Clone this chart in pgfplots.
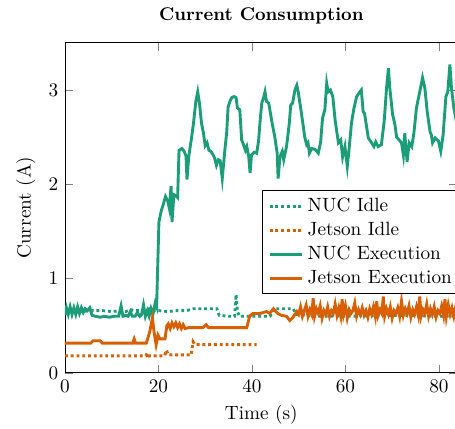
\documentclass[border=0pt]{standalone}
\usepackage{pgfplots}
\pgfplotsset{compat=1.18}
\definecolor{nuc}{HTML}{1B9E77}
\definecolor{jetson}{HTML}{D95F02}

\begin{document}
\begin{tikzpicture}
\begin{axis}[
    name=ax,
    scale only axis,
    width=204.5pt,
    height=171.9pt,
    xmin=0, xmax=84,
    ymin=0, ymax=3.5,
    xtick={0,20,40,60,80},
    ytick={0,1,2,3},
    xlabel={Time (s)},
    ylabel={Current (A)},
    title={Current Consumption},
    title style={font=\fontsize{9.6}{11}\selectfont\bfseries},
    legend cell align=left,
    legend style={at={(0.502,0.554)}, anchor=north west},
    every axis plot/.append style={line width=1.5pt},
]
% NUC idle
\addplot[nuc, dash pattern=on 1.5pt off 1.5pt] coordinates {
(0,0.62)(1,0.66)(2,0.63)(3,0.66)(4,0.65)(5,0.66)(6,0.66)(8,0.66)(10,0.65)
(12,0.66)(13,0.65)(14,0.67)(15,0.66)(17,0.66)(18,0.68)(19,0.66)(20,0.66)
(22,0.65)(24,0.66)(26,0.66)(27.5,0.68)(30,0.68)(32.5,0.68)(33,0.61)(35,0.6)
(36.3,0.6)(36.6,0.83)(36.9,0.65)(37.3,0.6)(39,0.6)(40,0.6)(43.9,0.6)(44.6,0.68)
(48.8,0.68)(49.5,0.62)(53,0.6)(60,0.6)(70,0.61)(80,0.6)(84,0.6)
};
\addlegendentry{NUC Idle}
% Jetson idle
\addplot[jetson, dash pattern=on 1.5pt off 1.5pt] coordinates {
(0,0.18)(5,0.18)(10,0.18)(15,0.18)(17.3,0.18)(17.6,0.21)(17.9,0.18)(21.3,0.18)
(21.7,0.24)(22.1,0.19)(27,0.19)(27.4,0.33)(27.8,0.3)(30,0.3)(35,0.3)(41,0.3)
};
\addlegendentry{Jetson Idle}
% NUC execution
\addplot[nuc] coordinates {
(0,0.62)(0.3,0.69)(0.7,0.62)(1.1,0.7)(1.5,0.62)(1.9,0.69)(2.3,0.62)(2.7,0.7)
(3.1,0.63)(3.5,0.69)(3.9,0.64)(4.3,0.68)(4.8,0.66)(5.3,0.69)(5.8,0.61)(6.5,0.6)
(7.5,0.59)(8.5,0.6)(9.5,0.59)(10.5,0.6)(11.5,0.6)(12.0,0.71)(12.4,0.6)(13,0.61)
(13.5,0.6)(14,0.65)(14.4,0.6)(15,0.6)(15.5,0.64)(16,0.6)(16.4,0.62)(16.8,0.72)
(17.2,0.6)(17.6,0.66)(18,0.6)(18.4,0.68)(18.8,0.62)(19.3,0.74)(19.6,0.7)
(20.1,1.6)(20.6,1.72)(21,1.78)(21.5,1.87)(22,1.82)(22.3,1.75)(22.7,1.98)
(22.9,1.6)(23.3,1.89)(23.7,1.88)(24.1,1.86)(24.4,2.36)(25,2.38)(25.5,2.35)
(25.9,2.3)(26.1,2.05)(26.5,2.3)(27.1,2.5)(27.5,2.65)(28,2.88)(28.4,2.98)
(28.8,2.85)(29.2,2.65)(29.6,2.55)(30,2.41)(30.4,2.44)(30.8,2.36)(31.2,2.35)
(31.6,2.32)(32,2.28)(32.4,2.2)(32.8,2.26)(33.2,2.25)(33.65,2.06)(34.2,2.36)
(34.6,2.55)(34.9,2.82)(35.3,2.88)(35.7,2.92)(36.2,2.93)(36.6,2.92)(36.9,2.81)
(37.4,2.79)(37.8,2.47)(38.2,2.42)(38.6,2.36)(38.9,2.4)(39.3,2.3)(39.6,2.12)
(39.9,2.31)(40.5,2.34)(41,2.33)(41.4,2.45)(41.8,2.7)(42.1,2.86)(42.5,2.92)
(42.8,2.98)(43.1,2.88)(43.6,2.86)(44.2,2.68)(44.9,2.5)(45.4,2.33)(45.6,2.06)
(46,2.29)(46.5,2.35)(46.8,2.26)(47.4,2.4)(48,2.65)(48.3,2.84)(48.7,2.86)
(49.2,3.0)(49.6,3.05)(49.9,2.98)(50.6,2.75)(51.3,2.5)(51.7,2.42)(52,2.44)
(52.3,2.33)(52.8,2.38)(53.5,2.37)(54.2,2.33)(54.7,2.45)(55.1,2.7)(55.6,2.79)
(56,3.07)(56.3,2.98)(56.8,3.0)(57.3,2.93)(57.8,2.68)(58.5,2.44)(59,2.47)
(59.4,2.29)(59.9,2.4)(60.4,2.19)(60.8,2.38)(61.3,2.65)(61.8,2.8)(62.4,2.93)
(63.1,2.98)(63.4,3.0)(63.8,2.77)(64.1,2.75)(64.9,2.49)(65.6,2.44)(66.1,2.4)
(66.5,2.45)(67,2.4)(67.7,2.42)(68.3,2.67)(68.8,3.02)(69.2,3.23)(69.5,3.02)
(70.1,2.74)(70.6,2.63)(70.95,2.5)(71.5,2.47)(72,2.44)(72.4,2.31)(72.7,2.54)
(73.2,2.24)(73.65,2.44)(74.2,2.4)(74.65,2.54)(75.2,2.81)(75.9,2.98)(76.5,3.13)
(77,3.02)(77.5,2.77)(78.1,2.56)(78.4,2.52)(78.65,2.44)(79.2,2.49)(79.9,2.46)
(80.4,2.35)(80.9,2.52)(81.5,2.93)(81.9,2.98)(82.35,3.27)(82.7,3.02)(83.2,2.81)
(83.8,2.65)(84.5,2.5)
};
\addlegendentry{NUC Execution}
% Jetson execution
\addplot[jetson] coordinates {
(0,0.315)(3,0.315)(5.5,0.315)(6,0.34)(7.5,0.34)(8,0.315)(10,0.315)(12,0.315)
(14.5,0.315)(14.8,0.36)(15.1,0.315)(17.4,0.315)(17.8,0.38)(18.2,0.45)(18.7,0.58)
(19.1,0.42)(19.5,0.3)(19.9,0.4)(20.3,0.36)(21.4,0.36)(21.8,0.5)(22.1,0.52)
(22.5,0.47)(22.9,0.53)(23.3,0.49)(23.7,0.53)(24.1,0.48)(24.5,0.52)(24.9,0.47)
(25.3,0.51)(25.7,0.47)(26.5,0.48)(28,0.48)(29.5,0.48)(30.2,0.51)(30.7,0.48)
(33,0.48)(35,0.48)(37,0.48)(38.9,0.48)(39.5,0.6)(40.2,0.63)(41.7,0.63)
(43.1,0.65)(43.8,0.63)(44.6,0.68)(45.5,0.63)(46.3,0.61)(47.4,0.6)(48.1,0.555)
(48.8,0.59)(49.6,0.65)(50,0.62)(50.4,0.7)(50.8,0.6)(51.2,0.66)(51.6,0.72)
(52,0.6)(52.4,0.67)(52.8,0.62)(53.1,0.79)(53.4,0.6)(53.8,0.68)(54.2,0.63)
(54.6,0.71)(55,0.58)(55.4,0.66)(55.8,0.62)(56.2,0.7)(56.6,0.6)(57,0.66)
(57.4,0.63)(57.8,0.73)(58.2,0.61)(58.6,0.69)(59,0.6)(59.3,0.78)(59.6,0.62)
(60,0.71)(60.4,0.58)(60.8,0.67)(61.2,0.63)(61.6,0.66)(62,0.74)(62.4,0.6)
(62.8,0.67)(63.2,0.62)(63.6,0.69)(64,0.61)(64.4,0.66)(64.8,0.59)(65.2,0.68)
(65.6,0.62)(66,0.7)(66.4,0.6)(66.7,0.76)(67,0.61)(67.4,0.67)(67.8,0.63)
(68.1,0.81)(68.4,0.6)(68.8,0.68)(69.2,0.62)(69.6,0.7)(70,0.58)(70.4,0.66)
(70.8,0.63)(71.2,0.69)(71.6,0.6)(72,0.76)(72.4,0.61)(72.8,0.68)(73.2,0.63)
(73.6,0.71)(74,0.59)(74.4,0.67)(74.8,0.62)(75.2,0.7)(75.6,0.61)(75.9,0.81)
(76.2,0.6)(76.6,0.67)(77,0.63)(77.4,0.73)(77.8,0.6)(78.2,0.68)(78.6,0.62)
(79,0.7)(79.4,0.59)(79.8,0.66)(80.2,0.63)(80.6,0.71)(81,0.61)(81.3,0.78)
(81.6,0.6)(82,0.72)(82.4,0.62)(82.8,0.69)(83.2,0.6)(83.6,0.7)(84,0.62)
};
\addlegendentry{Jetson Execution}
\end{axis}
\pgfresetboundingbox
\path (ax.south west) ++(-33.85pt,-29.2pt) rectangle ++(237pt,223.4pt);
\end{tikzpicture}
\end{document}
